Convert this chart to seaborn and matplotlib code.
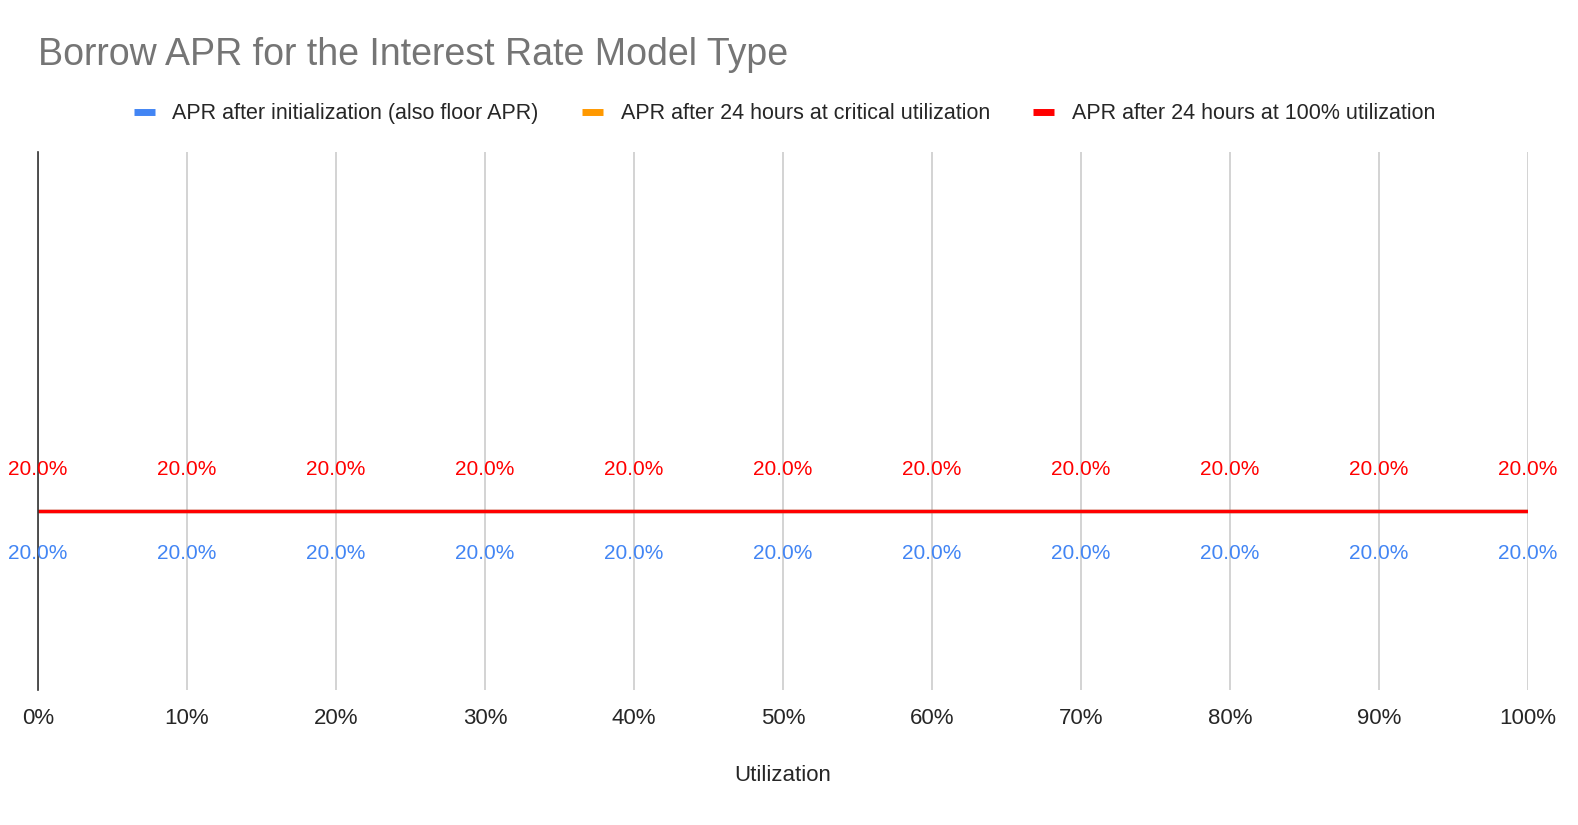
import matplotlib
matplotlib.use("Agg")
import matplotlib.pyplot as plt
from matplotlib.ticker import PercentFormatter
import seaborn as sns
import pandas as pd

# data
utilization = [0.0, 0.1, 0.2, 0.3, 0.4, 0.5, 0.6, 0.7, 0.8, 0.9, 1.0]
apr_initial = [0.20] * 11
apr_critical = [0.20] * 11
apr_full = [0.20] * 11

series_names = [
    "APR after initialization (also floor APR)",
    "APR after 24 hours at critical utilization",
    "APR after 24 hours at 100% utilization",
]
colors = ["#4285F4", "#FF9900", "#FF0000"]

rows = []
for name, vals in zip(series_names, [apr_initial, apr_critical, apr_full]):
    for u, v in zip(utilization, vals):
        rows.append((u, v, name))
df = pd.DataFrame(rows, columns=["Utilization", "APR", "Series"])

sns.set_style("white")
plt.rcParams["font.family"] = ["Liberation Sans", "DejaVu Sans"]

fig = plt.figure(figsize=(15.78, 8.25), dpi=100)
ax = fig.add_axes([0.0241, 0.1636, 0.9442, 0.6522])

sns.lineplot(data=df, x="Utilization", y="APR", hue="Series",
             palette=dict(zip(series_names, colors)), linewidth=2.4,
             ax=ax, legend=False)

ax.set_xlim(0, 1)
ax.set_ylim(0, 0.6)
ax.set_xticks(utilization)
ax.xaxis.set_major_formatter(PercentFormatter(1.0, decimals=0))
ax.set_yticks([])
ax.tick_params(axis="x", length=0, labelsize=16, pad=13)
ax.grid(axis="x", color="#cccccc", linewidth=1.2)
for s in ["top", "right", "bottom"]:
    ax.spines[s].set_visible(False)
ax.spines["left"].set_color("#333333")
ax.spines["left"].set_linewidth(1.2)
ax.set_xlabel("Utilization", fontsize=16, labelpad=26)
ax.set_ylabel("")

# data labels: red above the line, blue below
for u, v in zip(utilization, apr_full):
    ax.annotate(f"{v * 100:.1f}%", (u, v), xytext=(0, 30), textcoords="offset points",
                ha="center", va="center", color=colors[2], fontsize=15)
for u, v in zip(utilization, apr_initial):
    ax.annotate(f"{v * 100:.1f}%", (u, v), xytext=(0, -31), textcoords="offset points",
                ha="center", va="center", color=colors[0], fontsize=15)

fig.text(0.024, 0.933, "Borrow APR for the Interest Rate Model Type",
         fontsize=27, color="#757575", va="center", ha="left")

handles = [plt.Line2D([], [], color=c, linewidth=5, solid_capstyle="butt") for c in colors]
fig.legend(handles, series_names, loc="center", bbox_to_anchor=(0.497, 0.862),
           ncol=3, frameon=False, fontsize=15.5, handlelength=1.0,
           handletextpad=0.8, columnspacing=2.0)

fig.savefig("out.png", dpi=100)
